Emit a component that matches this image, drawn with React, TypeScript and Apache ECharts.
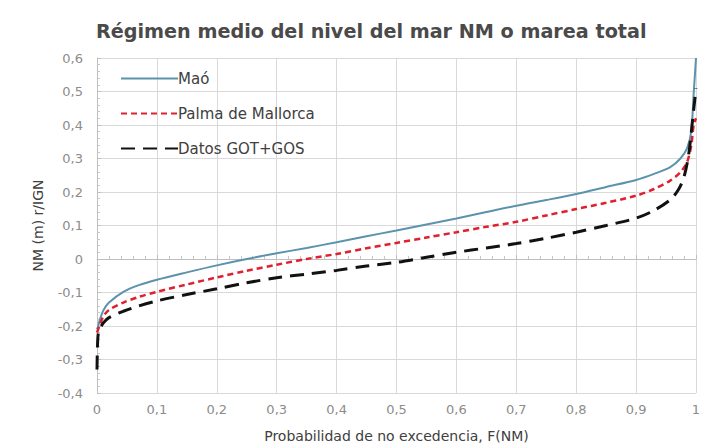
import React, { useEffect, useRef } from "react";
import * as echarts from "echarts";

const title = "Régimen medio del nivel del mar NM o marea total";
const xName = "Probabilidad de no excedencia, F(NM)";
const yName = "NM (m) r/IGN";

const maoP = [0, 0.002, 0.005, 0.011, 0.02, 0.044, 0.07, 0.1, 0.15, 0.2, 0.25, 0.3, 0.35, 0.4, 0.45, 0.5, 0.55, 0.6, 0.65, 0.7, 0.75, 0.8, 0.85, 0.9, 0.93, 0.957, 0.974, 0.985, 0.992, 0.996, 1.0];
const maoV = [-0.21, -0.2, -0.18, -0.152, -0.13, -0.098, -0.078, -0.062, -0.04, -0.019, 0.0, 0.017, 0.033, 0.05, 0.068, 0.085, 0.103, 0.121, 0.14, 0.159, 0.176, 0.194, 0.215, 0.236, 0.254, 0.274, 0.3, 0.33, 0.38, 0.49, 0.6];

const palmaP = [0, 0.005, 0.011, 0.02, 0.044, 0.07, 0.1, 0.15, 0.2, 0.25, 0.3, 0.35, 0.4, 0.45, 0.5, 0.55, 0.6, 0.65, 0.7, 0.75, 0.8, 0.85, 0.9, 0.93, 0.957, 0.974, 0.985, 0.992, 0.996, 1.0];
const palmaV = [-0.22, -0.195, -0.17, -0.152, -0.13, -0.113, -0.098, -0.076, -0.055, -0.035, -0.017, 0.0, 0.015, 0.032, 0.048, 0.064, 0.08, 0.096, 0.111, 0.13, 0.149, 0.168, 0.189, 0.209, 0.234, 0.259, 0.289, 0.338, 0.398, 0.42];

const gotP = [0, 0.001, 0.003, 0.011, 0.02, 0.044, 0.07, 0.1, 0.15, 0.2, 0.25, 0.3, 0.35, 0.4, 0.45, 0.5, 0.55, 0.6, 0.65, 0.7, 0.75, 0.8, 0.85, 0.9, 0.93, 0.957, 0.97, 0.98, 0.988, 0.994, 1.0];
const gotV = [-0.33, -0.25, -0.215, -0.19, -0.175, -0.156, -0.14, -0.125, -0.106, -0.089, -0.071, -0.056, -0.045, -0.034, -0.021, -0.01, 0.005, 0.02, 0.033, 0.046, 0.062, 0.08, 0.1, 0.122, 0.145, 0.177, 0.205, 0.245, 0.315, 0.41, 0.51];

const seriesNames = ["Maó", "Palma de Mallorca", "Datos GOT+GOS"];

const pair = (p: number[], v: number[]) => p.map((x, i) => [x, v[i]]);
const fmt = (v: number) => (Math.abs(v) < 1e-9 ? "0" : String(Math.round(v * 10) / 10).replace(".", ","));

const FONT = "'DejaVu Sans', sans-serif";

export default function App() {
  const ref = useRef<HTMLDivElement>(null);
  useEffect(() => {
    document.body.style.margin = "0";
    const chart = echarts.init(ref.current!, undefined, { renderer: "svg" });
    chart.setOption({
      animation: false,
      backgroundColor: "#ffffff",
      title: {
        text: title,
        left: 91,
        top: 17,
        textStyle: { fontFamily: FONT, fontSize: 19.2, fontWeight: "bold", color: "#4a4a4a" },
      },
      legend: {
        orient: "vertical",
        left: 115,
        top: 66,
        itemWidth: 57,
        itemHeight: 12,
        itemGap: 20,
        itemStyle: { opacity: 0 },
        textStyle: { fontFamily: FONT, fontSize: 15, color: "#404040", padding: [0, 0, 0, -5] },
        data: seriesNames,
      },
      grid: { left: 97, right: 20, top: 58, bottom: 54 },
      xAxis: {
        type: "value",
        min: 0,
        max: 1,
        interval: 0.1,
        name: xName,
        nameLocation: "middle",
        nameGap: 36,
        nameTextStyle: { fontFamily: FONT, fontSize: 14, color: "#404040" },
        axisLine: { show: true, lineStyle: { color: "#bfbfbf" } },
        axisTick: { show: true, inside: true, length: 4, lineStyle: { color: "#bfbfbf" } },
        minorTick: { show: true, splitNumber: 5, length: 3, lineStyle: { color: "#c8c8c8" } },
        axisLabel: { fontFamily: FONT, fontSize: 13, color: "#8c8c8c", margin: 10, formatter: fmt },
        splitLine: { show: true, lineStyle: { color: "#d9d9d9" } },
      },
      yAxis: {
        type: "value",
        min: -0.4,
        max: 0.6,
        interval: 0.1,
        name: yName,
        nameLocation: "middle",
        nameGap: 52,
        nameTextStyle: { fontFamily: FONT, fontSize: 14, color: "#404040" },
        axisLine: { show: true, lineStyle: { color: "#bfbfbf" } },
        axisTick: { show: true, inside: true, length: 4, lineStyle: { color: "#bfbfbf" } },
        minorTick: { show: true, splitNumber: 5, length: 3, lineStyle: { color: "#c8c8c8" } },
        axisLabel: { fontFamily: FONT, fontSize: 13, color: "#8c8c8c", margin: 14, formatter: fmt },
        splitLine: { show: true, lineStyle: { color: "#d9d9d9" } },
      },
      series: [
        {
          name: seriesNames[0],
          type: "line",
          data: pair(maoP, maoV),
          showSymbol: false,
          symbol: "none",
          smooth: 0.3,
          color: "#5b93ad",
          lineStyle: { color: "#5b93ad", width: 2 },
        },
        {
          name: seriesNames[1],
          type: "line",
          data: pair(palmaP, palmaV),
          showSymbol: false,
          symbol: "none",
          smooth: 0.3,
          color: "#e0202e",
          lineStyle: { color: "#e0202e", width: 2.5, type: [6, 4] },
          z: 3,
        },
        {
          name: seriesNames[2],
          type: "line",
          data: pair(gotP, gotV),
          showSymbol: false,
          symbol: "none",
          smooth: 0.3,
          color: "#111111",
          lineStyle: { color: "#111111", width: 3, type: [14, 8] },
          z: 4,
        },
      ],
    });
    return () => chart.dispose();
  }, []);
  return <div ref={ref} style={{ width: 716, height: 448 }} />;
}
